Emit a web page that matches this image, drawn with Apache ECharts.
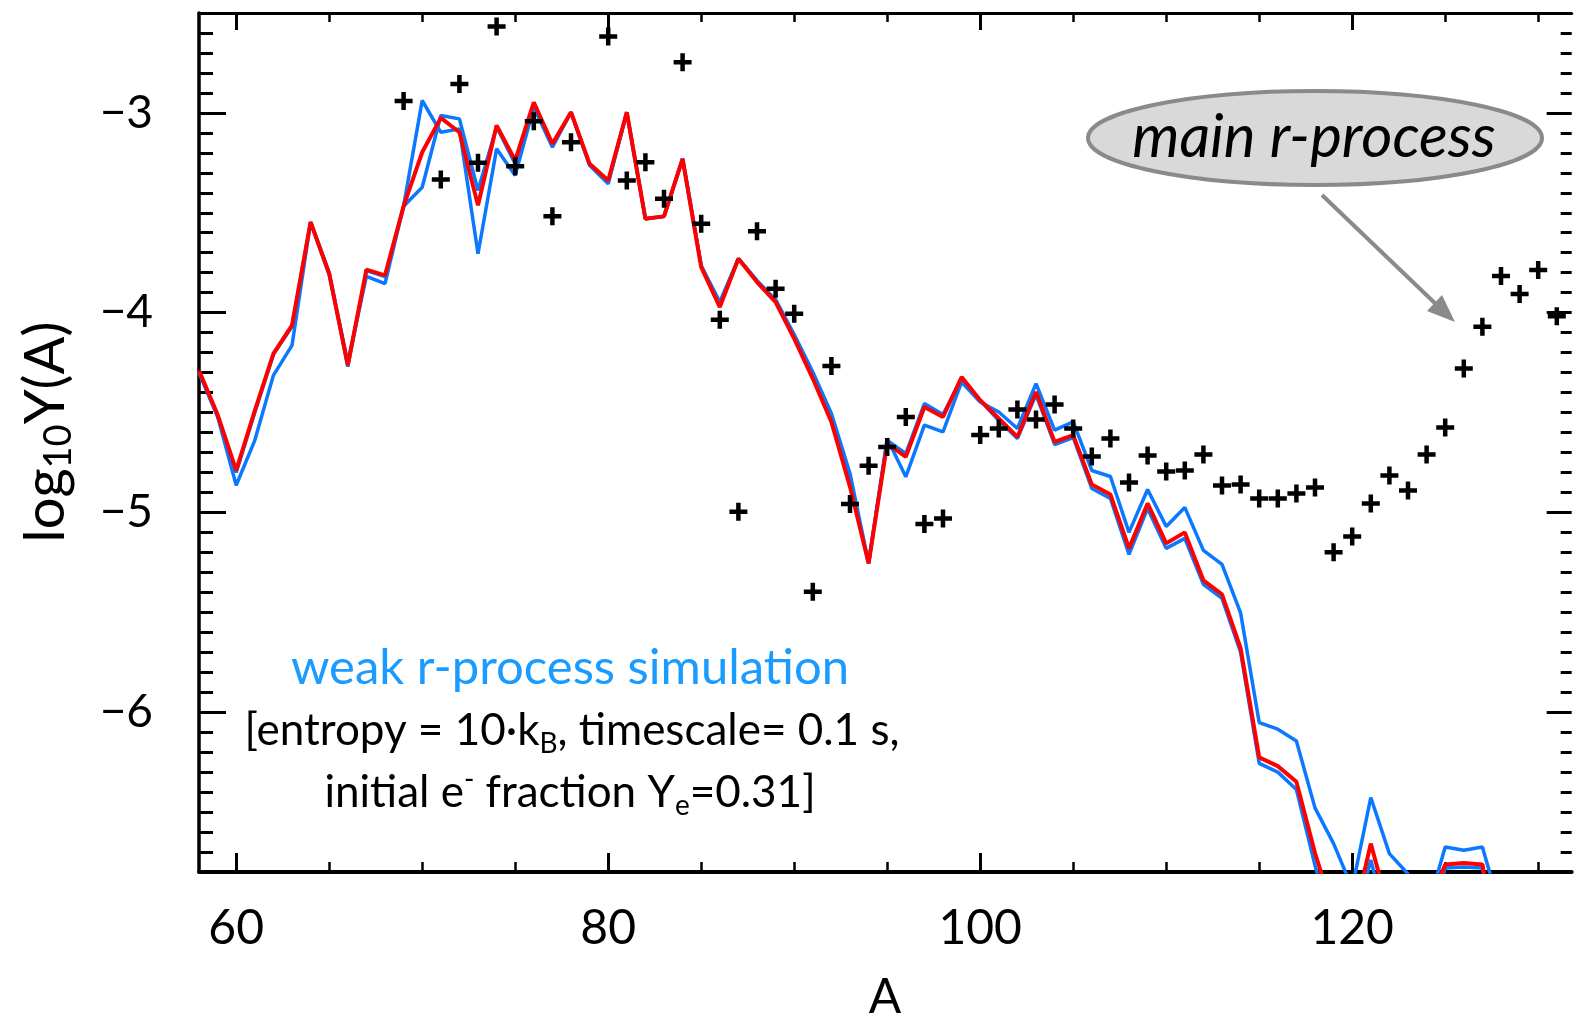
<!DOCTYPE html>
<html><head><meta charset="utf-8">
<script src="https://cdn.jsdelivr.net/npm/echarts@6/dist/echarts.min.js"></script>
<style>html,body{margin:0;padding:0;background:#fff}#c{width:1588px;height:1017px}</style>
</head><body><div id="c"></div>
<script>
// ---------- data ----------
const massNumbers = [58,59,60,61,62,63,64,65,66,67,68,69,70,71,72,73,74,75,76,77,78,79,80,81,82,83,84,85,86,87,88,89,90,91,92,93,94,95,96,97,98,99,100,101,102,103,104,105,106,107,108,109,110,111,112,113,114,115,116,117,118,119,120,121,122,123,124,125,126,127,128];
const simRed = [-4.29,-4.51,-4.79,-4.49,-4.205,-4.064,-3.547,-3.805,-4.263,-3.785,-3.813,-3.467,-3.197,-3.025,-3.097,-3.463,-3.063,-3.238,-2.947,-3.155,-2.997,-3.255,-3.338,-2.997,-3.53,-3.518,-3.23,-3.772,-3.972,-3.73,-3.847,-3.947,-4.13,-4.33,-4.547,-4.872,-5.255,-4.655,-4.722,-4.472,-4.522,-4.322,-4.438,-4.53,-4.622,-4.397,-4.647,-4.613,-4.86,-4.91,-5.18,-4.955,-5.155,-5.10,-5.34,-5.41,-5.68,-6.226,-6.27,-6.348,-6.705,-7.0,-7.06,-6.658,-7.0,-7.2,-7.0,-6.762,-6.755,-6.762,-7.3];
const simBlueLow = [-4.30,-4.52,-4.80,-4.50,-4.21,-4.07,-3.547,-3.80,-4.27,-3.79,-3.82,-3.467,-3.372,-3.013,-3.03,-3.388,-3.07,-3.255,-2.955,-3.16,-2.997,-3.26,-3.345,-2.997,-3.53,-3.518,-3.23,-3.765,-3.955,-3.73,-3.84,-3.94,-4.12,-4.31,-4.52,-4.84,-5.255,-4.64,-4.705,-4.455,-4.51,-4.33,-4.44,-4.54,-4.63,-4.41,-4.66,-4.625,-4.88,-4.93,-5.21,-4.98,-5.18,-5.13,-5.36,-5.43,-5.70,-6.256,-6.30,-6.387,-6.767,-7.1,-7.1,-6.74,-7.1,-7.3,-7.1,-6.78,-6.775,-6.78,-7.3];
const simBlueHigh = [-4.297,-4.52,-4.864,-4.639,-4.314,-4.164,-3.547,-3.81,-4.25,-3.818,-3.855,-3.467,-2.938,-3.097,-3.08,-3.705,-3.18,-3.313,-2.972,-3.172,-2.997,-3.262,-3.355,-2.997,-3.53,-3.518,-3.23,-3.765,-3.947,-3.73,-3.84,-3.935,-4.11,-4.297,-4.505,-4.805,-5.255,-4.63,-4.822,-4.563,-4.597,-4.347,-4.447,-4.497,-4.58,-4.355,-4.588,-4.547,-4.79,-4.82,-5.10,-4.885,-5.07,-4.975,-5.19,-5.26,-5.503,-6.052,-6.085,-6.144,-6.479,-6.658,-6.88,-6.427,-6.708,-6.81,-7.0,-6.675,-6.691,-6.675,-7.0];
const obsMass = [69,71,72,73,74,75,76,77,78,80,81,82,83,84,85,86,87,88,89,90,91,92,93,94,95,96,97,98,100,101,102,103,104,105,106,107,108,109,110,111,112,113,114,115,116,117,118,119,120,121,122,123,124,125,126,127,128,129,130,131];
const obsLogY = [-2.94,-3.333,-2.855,-3.25,-2.567,-3.267,-3.042,-3.518,-3.147,-2.618,-3.338,-3.247,-3.43,-2.747,-3.555,-4.035,-4.997,-3.592,-3.88,-4.005,-5.397,-4.267,-4.958,-4.767,-4.672,-4.522,-5.058,-5.03,-4.613,-4.58,-4.485,-4.535,-4.46,-4.58,-4.72,-4.63,-4.85,-4.715,-4.795,-4.79,-4.71,-4.865,-4.86,-4.93,-4.93,-4.905,-4.875,-5.2,-5.12,-4.955,-4.815,-4.89,-4.71,-4.575,-4.28,-4.07,-3.817,-3.907,-3.786,-4.018];
const xTickLabels = ['60','80','100','120'];
const yTickLabels = ['−6','−5','−4','−3'];

// ---------- layout ----------
const X0 = 58, X1 = 131.8, Y0 = -6.8, Y1 = -2.5;
const L = 199, T = 13, PXX = 18.6, H = 859;
const PXY = H / (Y1 - Y0);
const gx = (a, b) => ({ left: L + (a - X0) * PXX, width: (b - a) * PXX });
const gy = (a, b) => ({ top: T + (Y1 - b) * PXY, height: (b - a) * PXY });
const gbase = { containLabel: false, outerBoundsMode: 'none', show: false };
const FONT = 'Lato';
const pair = arr => massNumbers.map((a, i) => [a, arr[i]]);
const plus = 'path://M7.5,0H12.5V7.5H20V12.5H12.5V20H7.5V12.5H0V7.5H7.5Z';

const tickAxis = (extra) => Object.assign({
  type: 'value', axisLine: { show: false, onZero: false },
  axisLabel: { show: false }, splitLine: { show: false }
}, extra);

const chart = echarts.init(document.getElementById('c'), null, { renderer: 'canvas' });
chart.setOption({
  animation: false,
  backgroundColor: '#fff',
  grid: [
    Object.assign({}, gbase, gx(X0, X1), gy(Y0, Y1)),
    Object.assign({}, gbase, gx(60, 130), gy(Y0, Y1)),
    Object.assign({}, gbase, gx(60, 120), gy(Y0, Y1)),
    Object.assign({}, gbase, gx(X0, X1), gy(-6.7, -2.6)),
    Object.assign({}, gbase, gx(X0, X1), gy(-6, -3))
  ],
  xAxis: [
    { gridIndex: 0, type: 'value', min: X0, max: X1, position: 'bottom',
      axisLine: { show: true, onZero: false, lineStyle: { color: '#000', width: 4 } },
      axisTick: { show: false }, axisLabel: { show: false }, splitLine: { show: false } },
    { gridIndex: 0, type: 'value', min: X0, max: X1, position: 'top',
      axisLine: { show: true, onZero: false, lineStyle: { color: '#000', width: 3 } },
      axisTick: { show: false }, axisLabel: { show: false }, splitLine: { show: false } },
    tickAxis({ gridIndex: 1, min: 60, max: 130, interval: 5, position: 'bottom',
      axisTick: { show: true, inside: true, length: 10, lineStyle: { color: '#000', width: 2.5 } } }),
    tickAxis({ gridIndex: 1, min: 60, max: 130, interval: 5, position: 'top',
      axisTick: { show: true, inside: true, length: 9, lineStyle: { color: '#000', width: 2.5 } } }),
    tickAxis({ gridIndex: 2, min: 60, max: 120, interval: 20, position: 'bottom',
      axisTick: { show: true, inside: true, length: 19, lineStyle: { color: '#000', width: 3 } },
      axisLabel: { show: true, margin: 33, fontSize: 48, fontFamily: FONT, fontWeight: 'normal', color: '#000',
        formatter: v => xTickLabels[Math.round((v - 60) / 20)] } }),
    tickAxis({ gridIndex: 2, min: 60, max: 120, interval: 20, position: 'top',
      axisTick: { show: true, inside: true, length: 17, lineStyle: { color: '#000', width: 3 } } }),
    { gridIndex: 3, type: 'value', show: false, min: X0, max: X1 },
    { gridIndex: 4, type: 'value', show: false, min: X0, max: X1 }
  ],
  yAxis: [
    { gridIndex: 0, type: 'value', min: Y0, max: Y1, position: 'left',
      axisLine: { show: true, onZero: false, lineStyle: { color: '#000', width: 3.5 } },
      axisTick: { show: false }, axisLabel: { show: false }, splitLine: { show: false } },
    { gridIndex: 1, type: 'value', show: false, min: Y0, max: Y1 },
    { gridIndex: 2, type: 'value', show: false, min: Y0, max: Y1 },
    tickAxis({ gridIndex: 3, min: -6.7, max: -2.6, interval: 0.1, position: 'left',
      axisTick: { show: true, inside: true, length: 14, lineStyle: { color: '#000', width: 3 } } }),
    tickAxis({ gridIndex: 3, min: -6.7, max: -2.6, interval: 0.1, position: 'right',
      axisTick: { show: true, inside: true, length: 11, lineStyle: { color: '#000', width: 3 } } }),
    tickAxis({ gridIndex: 4, min: -6, max: -3, interval: 1, position: 'left',
      axisTick: { show: true, inside: true, length: 27, lineStyle: { color: '#000', width: 3 } },
      axisLabel: { show: true, margin: 46, fontSize: 46, fontFamily: FONT, fontWeight: 'normal', color: '#000',
        formatter: v => yTickLabels[Math.round(v + 6)] } }),
    tickAxis({ gridIndex: 4, min: -6, max: -3, interval: 1, position: 'right',
      axisTick: { show: true, inside: true, length: 25, lineStyle: { color: '#000', width: 3 } } })
  ],
  series: [
    { type: 'line', xAxisIndex: 0, yAxisIndex: 0, data: pair(simBlueHigh), symbol: 'none', showSymbol: false,
      clip: true, z: 2, lineStyle: { color: '#0a78ff', width: 3.5 } },
    { type: 'line', xAxisIndex: 0, yAxisIndex: 0, data: pair(simBlueLow), symbol: 'none', showSymbol: false,
      clip: true, z: 3, lineStyle: { color: '#0a78ff', width: 3.5 } },
    { type: 'line', xAxisIndex: 0, yAxisIndex: 0, data: pair(simRed), symbol: 'none', showSymbol: false,
      clip: true, z: 4, lineStyle: { color: '#ff0000', width: 4 } },
    { type: 'scatter', xAxisIndex: 0, yAxisIndex: 0, data: obsMass.map((a, i) => [a, obsLogY[i]]),
      symbol: plus, symbolSize: 18, z: 5, itemStyle: { color: '#000', opacity: 1 } }
  ],
  graphic: [
    { type: 'text', x: 885, y: 998, z: 10, style: { text: 'A', fontSize: 48, fontFamily: FONT, fontWeight: 'normal',
      fill: '#000', align: 'center', verticalAlign: 'middle', textAlign: 'center', textVerticalAlign: 'middle' } },
    { type: 'text', x: 46, y: 432, rotation: Math.PI / 2, z: 10, style: {
      text: '{a|log}{s|10}{a|Y(A)}', align: 'center', verticalAlign: 'middle', textAlign: 'center', textVerticalAlign: 'middle', fill: '#000',
      rich: { a: { fontSize: 56, fontFamily: FONT, fontWeight: 'normal', lineHeight: 64, fill: '#000' },
              s: { fontSize: 38, fontFamily: FONT, fontWeight: 'normal', lineHeight: 34, verticalAlign: 'bottom', fill: '#000' } } } },
    { type: 'ellipse', z: 10, shape: { cx: 1315, cy: 138, rx: 227, ry: 47 },
      style: { fill: '#d9d9d9', stroke: '#8a8a8a', lineWidth: 4 } },
    { type: 'text', x: 1314, y: 138, z: 11, style: { text: 'main r-process', fontSize: 60, fontStyle: 'italic',
      fontFamily: FONT, fill: '#000', align: 'center', verticalAlign: 'middle', textAlign: 'center', textVerticalAlign: 'middle' } },
    { type: 'line', z: 10, shape: { x1: 1322, y1: 195, x2: 1440, y2: 308 },
      style: { stroke: '#8a8a8a', lineWidth: 4 } },
    { type: 'polygon', z: 10, shape: { points: [[1455, 322], [1427, 311], [1442, 295]] },
      style: { fill: '#8a8a8a' } },
    { type: 'text', x: 570, y: 668, z: 10, style: { text: 'weak r-process simulation', fontSize: 49, fontFamily: FONT,
      fill: '#1a9bff', align: 'center', verticalAlign: 'middle', textAlign: 'center', textVerticalAlign: 'middle' } },
    { type: 'text', x: 572, y: 731, z: 10, style: {
      text: '{n|[entropy = 10·k}{b|B}{n|, timescale= 0.1 s,}', align: 'center', verticalAlign: 'middle', textAlign: 'center', textVerticalAlign: 'middle',
      rich: { n: { fontSize: 44, fontFamily: FONT, lineHeight: 54, fill: '#000' },
              b: { fontSize: 28, fontFamily: FONT, lineHeight: 34, verticalAlign: 'bottom', fill: '#000' } } } },
    { type: 'text', x: 570, y: 793, z: 10, style: {
      text: '{n|initial e}{p|-}{n| fraction Y}{b|e}{n|=0.31]}', align: 'center', verticalAlign: 'middle', textAlign: 'center', textVerticalAlign: 'middle',
      rich: { n: { fontSize: 44, fontFamily: FONT, lineHeight: 54, fill: '#000' },
              b: { fontSize: 28, fontFamily: FONT, lineHeight: 34, verticalAlign: 'bottom', fill: '#000' },
              p: { fontSize: 28, fontFamily: FONT, lineHeight: 34, verticalAlign: 'top', fill: '#000' } } } }
  ]
});
</script>
</body></html>
